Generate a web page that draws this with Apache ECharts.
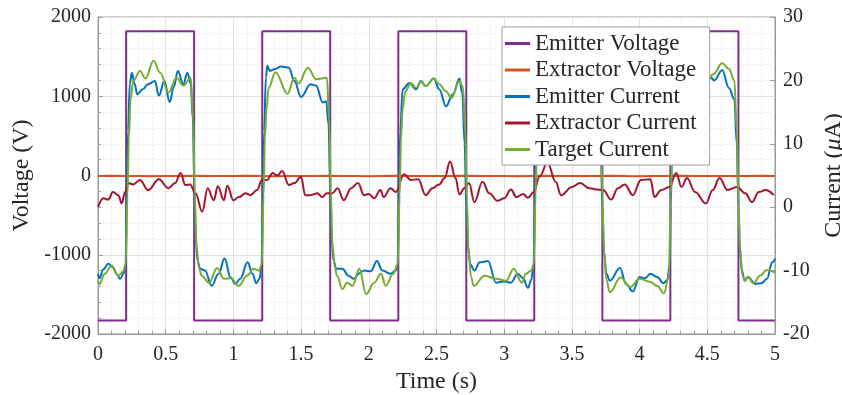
<!DOCTYPE html>
<html>
<head>
<meta charset="utf-8">
<script src="https://cdn.jsdelivr.net/npm/echarts@6/dist/echarts.min.js"></script>
<style>
  html, body { margin: 0; padding: 0; background: #fff; }
  #chart { width: 842px; height: 395px; }
</style>
</head>
<body>
<div id="chart"></div>
<script>
// time grid / values
const emitterVoltageT = [0, 0.208, 0.208, 0.71, 0.71, 1.213, 1.213, 1.715, 1.715, 2.218, 2.218,
  2.72, 2.72, 3.222, 3.222, 3.725, 3.725, 4.227, 4.227, 4.73, 4.73, 5];
const emitterVoltage = [-1830, -1830, 1820, 1820, -1830, -1830, 1820, 1820, -1830, -1830, 1820,
  1820, -1830, -1830, 1820, 1820, -1830, -1830, 1820, 1820, -1830, -1830];

// sampled every 0.1 s
const extractorVoltage = [-6, -4, -7, -5, -8, -5, -6, -3, -6, -7, -5, -4, -6, -8, -5, -6, -7, -4,
  -5, -6, -8, -5, -3, -6, -7, -5, -6, -4, -7, -5, -6, -8, -5, -4, -6, -7, -5, -6, -3, -6, -8, -5,
  -6, -4, -7, -5, -6, -5, -7, -4, -6];

const emitterCurrentT = [0, 0.01, 0.04, 0.076, 0.11, 0.14, 0.163, 0.19, 0.203, 0.212, 0.222, 0.235,
  0.25, 0.27, 0.29, 0.33, 0.37, 0.42, 0.45, 0.49, 0.53, 0.56, 0.59, 0.63, 0.66, 0.685, 0.7, 0.712,
  0.722, 0.735, 0.755, 0.79, 0.84, 0.89, 0.935, 0.98, 1.015, 1.05, 1.105, 1.14, 1.17, 1.195, 1.208,
  1.217, 1.227, 1.24, 1.25, 1.27, 1.31, 1.35, 1.41, 1.45, 1.5, 1.57, 1.61, 1.66, 1.685, 1.703, 1.715,
  1.725, 1.74, 1.76, 1.805, 1.85, 1.89, 1.93, 1.965, 2.015, 2.06, 2.1, 2.16, 2.2, 2.213, 2.222,
  2.232, 2.25, 2.3, 2.35, 2.385, 2.42, 2.48, 2.52, 2.57, 2.62, 2.67, 2.69, 2.708, 2.72, 2.73, 2.75,
  2.78, 2.82, 2.88, 2.94, 3.0, 3.05, 3.1, 3.14, 3.175, 3.2, 3.217, 3.226, 3.236, 3.255, 3.3, 3.36,
  3.42, 3.48, 3.54, 3.6, 3.66, 3.695, 3.713, 3.725, 3.737, 3.755, 3.78, 3.855, 3.9, 3.95, 4.0, 4.04,
  4.08, 4.13, 4.175, 4.205, 4.222, 4.231, 4.241, 4.26, 4.3, 4.36, 4.42, 4.48, 4.53, 4.55, 4.61, 4.66,
  4.7, 4.718, 4.73, 4.74, 4.755, 4.775, 4.8, 4.855, 4.9, 4.94, 4.98, 5.0];
const emitterCurrent = [-10.5, -11.2, -9.8, -8.9, -9.5, -10.6, -11.3, -10.4, -9.5, 0, 12, 19.5,
  21.2, 19.5, 17.8, 18.6, 19.4, 19.9, 17.6, 19.9, 16.6, 19.0, 21.5, 19.4, 21.2, 19.5, 14, 3,
  -5, -8.5, -9.7, -10.0, -12.4, -10.5, -8.1, -11.1, -12.1, -11.3, -8.7, -10.5, -12.0, -11.2, -9,
  0, 12, 20.5, 22.3, 21.5, 21.8, 22.2, 22.0, 19.9, 17.4, 19.4, 19.2, 16.5, 16.7, 13, 3,
  -5, -8.5, -9.7, -9.7, -10.8, -11.3, -10.4, -10.0, -10.1, -8.5, -10.0, -10.5, -10, -9, 0,
  12, 18.6, 19.6, 18.6, 19.9, 19.1, 20.3, 18.6, 15.9, 17.8, 20.3, 18, 10, 0, -6, -9,
  -10.0, -8.7, -8.5, -11.9, -11.7, -11.9, -10.5, -11.2, -12.7, -11.5, -9, 0, 12, 19.5, 20.5, 19.2,
  20.8, 18.9, 20.2, 19.0, 20.4, 18, 10, 0, -7, -10.5, -11.6, -9.6, -12.1, -13.3, -11.0, -11.2,
  -10.5, -11.0, -12.0, -11.5, -9, 0, 12, 19.5, 20.5, 19.0, 20.6, 19.3, 20.4, 20.0, 21.6, 18.8,
  17, 10, 0, -6, -10, -11.6, -11.0, -12.1, -12.0, -11.3, -8.7, -8.1];

const extractorCurrentT = [0, 0.04, 0.076, 0.11, 0.15, 0.175, 0.2, 0.225, 0.26, 0.31, 0.37, 0.45,
  0.52, 0.57, 0.61, 0.645, 0.68, 0.72, 0.77, 0.81, 0.855, 0.885, 0.93, 0.955, 1.0, 1.04, 1.09,
  1.125, 1.175, 1.21, 1.25, 1.29, 1.325, 1.36, 1.41, 1.45, 1.5, 1.53, 1.57, 1.62, 1.655, 1.69,
  1.73, 1.77, 1.815, 1.87, 1.92, 1.965, 2.0, 2.04, 2.085, 2.11, 2.16, 2.2, 2.26, 2.31, 2.365,
  2.42, 2.47, 2.52, 2.56, 2.6, 2.64, 2.67, 2.705, 2.74, 2.78, 2.84, 2.89, 2.95, 3.0, 3.05, 3.09,
  3.14, 3.175, 3.22, 3.26, 3.32, 3.38, 3.42, 3.5, 3.56, 3.63, 3.68, 3.73, 3.79, 3.84, 3.89, 3.95,
  4.01, 4.08, 4.11, 4.16, 4.22, 4.27, 4.31, 4.35, 4.41, 4.49, 4.54, 4.59, 4.65, 4.72, 4.78, 4.83,
  4.88, 4.93, 4.99];
const extractorCurrent = [0.0, 1.4, 1.2, 2.4, 1.9, 0.6, 2.4, 3.8, 3.6, 4.3, 2.7, 4.4,
  3.0, 3.8, 5.4, 3.5, 3.6, 2.2, -0.7, 3.0, 1.1, 3.3, 1.1, 3.4, 1.1, 1.6, 2.2,
  1.9, 2.7, 4.3, 4.3, 5.4, 5.0, 5.7, 3.5, 3.8, 4.8, 1.9, 1.9, 2.2, 1.6, 2.2,
  2.2, 3.0, 1.1, 3.0, 3.8, 1.9, 2.1, 1.4, 2.7, 1.6, 3.0, 2.4, 5.2, 4.3, 4.4,
  1.9, 3.0, 3.6, 4.6, 7.2, 4.6, 2.0, 3.0, 3.8, 0.8, 4.0, 2.2, 1.0, 1.4, 2.8, 1.6,
  2.1, 1.5, 2.4, 4.8, 7.0, 4.0, 1.9, 3.2, 3.8, 3.0, 2.8, 2.7, 1.2, 3.0, 3.6, 1.9,
  4.3, 4.4, 1.6, 2.7, 3.2, 5.4, 3.2, 4.6, 2.4, 0.6, 2.7, 4.6, 2.7, 3.2, 2.2, 0.8,
  2.4, 2.7, 1.9];

const targetCurrentT = [0, 0.01, 0.05, 0.1, 0.15, 0.185, 0.205, 0.218, 0.228, 0.24, 0.26, 0.31,
  0.35, 0.41, 0.46, 0.52, 0.58, 0.63, 0.685, 0.703, 0.715, 0.727, 0.745, 0.765, 0.82, 0.88, 0.93,
  0.98, 1.04, 1.1, 1.15, 1.19, 1.21, 1.223, 1.233, 1.245, 1.26, 1.31, 1.4, 1.45, 1.48, 1.55, 1.61,
  1.69, 1.708, 1.72, 1.732, 1.75, 1.765, 1.805, 1.84, 1.88, 1.93, 1.98, 2.04, 2.09, 2.125, 2.18,
  2.215, 2.228, 2.238, 2.25, 2.27, 2.31, 2.35, 2.385, 2.42, 2.48, 2.52, 2.57, 2.61, 2.67, 2.695,
  2.713, 2.725, 2.737, 2.755, 2.775, 2.855, 2.94, 3.015, 3.07, 3.13, 3.16, 3.2, 3.219, 3.232, 3.242,
  3.254, 3.275, 3.32, 3.38, 3.44, 3.5, 3.56, 3.62, 3.695, 3.713, 3.725, 3.737, 3.755, 3.78, 3.86,
  3.93, 4.0, 4.08, 4.13, 4.18, 4.215, 4.232, 4.242, 4.255, 4.275, 4.32, 4.38, 4.44, 4.5, 4.545,
  4.61, 4.66, 4.7, 4.718, 4.73, 4.742, 4.76, 4.78, 4.8, 4.84, 4.89, 4.94, 5.0];
const targetCurrent = [-11.6, -12.1, -10.5, -9.2, -10.8, -10.2, -9, 2, 11, 17, 19.9, 21.5,
  20.3, 23.1, 21.2, 18.1, 20.4, 19.2, 20.4, 14, 2, -6, -9.5, -10.8, -11.9, -9.6, -11.3,
  -11.2, -12.4, -10.8, -9.7, -10.0, -9, 2, 11, 15.5, 18.8, 21.3, 17.9, 20.4, 19.5, 22.0, 20.2,
  20.4, 14, 2, -6, -9.5, -10.8, -12.9, -11.9, -12.4, -9.7, -13.7, -11.9, -10.5, -12.4, -10.5,
  -9, 2, 11, 15.5, 18.3, 19.6, 18.8, 19.8, 19.1, 20.3, 19.4, 18.3, 17.2, 19.9, 19,
  12, 1, -7, -11, -12.4, -10.8, -11.3, -11.6, -9.7, -11.9, -10.5, -10, -9, 2, 11,
  16, 20, 21.2, 19.5, 21.0, 19.2, 20.6, 19.8, 20.5, 14, 2, -7, -11.5, -13.4, -11.1,
  -12.6, -11.3, -11.8, -12.4, -13.6, -11, 2, 11, 16, 19, 20.8, 19.6, 21.2, 20.0, 21.0,
  22.7, 21.8, 20.0, 12, 1, -7, -10.8, -11.6, -11.0, -12.0, -10.8, -9.9, -10.3];

const zip = (t, v) => t.map((x, i) => [x, v[i]]);

const FONT = 'Liberation Serif';
const AXIS = '#9a9a9a';
const TEXT = '#262626';

const chart = echarts.init(document.getElementById('chart'));

chart.setOption({
  animation: false,
  backgroundColor: '#fff',
  grid: {
    left: 98, right: 67, top: 17, bottom: 61,
    outerBoundsMode: 'none',
    containLabel: false,
    show: true, borderColor: AXIS, borderWidth: 1,
  },
  legend: {
    orient: 'vertical',
    left: 502,
    top: 27,
    padding: [5, 13, 4, 3],
    itemWidth: 25,
    itemHeight: 3,
    itemGap: 3.5,
    icon: 'rect',
    backgroundColor: '#fff',
    borderColor: '#a0a0a0',
    borderWidth: 1,
    textStyle: { fontFamily: FONT, fontSize: 23, color: TEXT, lineHeight: 20 },
    data: ['Emitter Voltage', 'Extractor Voltage', 'Emitter Current', 'Extractor Current', 'Target Current'],
  },
  xAxis: {
    type: 'value',
    min: 0, max: 5, interval: 0.5,
    name: 'Time (s)',
    nameLocation: 'middle',
    nameGap: 34,
    nameTextStyle: { fontFamily: FONT, fontSize: 24, color: TEXT },
    axisLine: { onZero: false, lineStyle: { color: AXIS } },
    axisTick: { inside: true, length: 5, lineStyle: { color: AXIS } },
    minorTick: { show: true, splitNumber: 5, length: 3, lineStyle: { color: AXIS } },
    axisLabel: { margin: 11, fontFamily: FONT, fontSize: 20, color: TEXT },
    splitLine: { show: true, lineStyle: { color: '#e2e2e2' } },
    minorSplitLine: { show: true, lineStyle: { color: '#ededed', type: [2, 2] } },
  },
  yAxis: [
    {
      type: 'value',
      min: -2000, max: 2000, interval: 1000,
      name: 'Voltage (V)',
      nameLocation: 'middle',
      nameRotate: 90,
      nameGap: 62,
      nameTextStyle: { fontFamily: FONT, fontSize: 24, color: TEXT },
      axisLine: { show: true, onZero: false, lineStyle: { color: AXIS } },
      axisTick: { show: true, inside: true, length: 5, lineStyle: { color: AXIS } },
      minorTick: { show: true, splitNumber: 5, length: 3, lineStyle: { color: AXIS } },
      axisLabel: { margin: 7, fontFamily: FONT, fontSize: 20, color: TEXT, formatter: (v) => String(v) },
      splitLine: { show: true, lineStyle: { color: '#e2e2e2' } },
      minorSplitLine: { show: true, lineStyle: { color: '#ededed', type: [2, 2] } },
    },
    {
      type: 'value',
      position: 'right',
      min: -20, max: 30, interval: 10,
      name: '{n|Current (}{m|μ}{n|A)}',
      nameLocation: 'middle',
      nameRotate: 90,
      nameGap: 47,
      nameTextStyle: {
        rich: {
          n: { fontFamily: FONT, fontSize: 24, color: TEXT },
          m: { fontFamily: FONT, fontSize: 24, color: TEXT, fontStyle: 'italic' },
        },
      },
      axisLine: { show: true, onZero: false, lineStyle: { color: AXIS } },
      axisTick: { show: true, inside: true, length: 5, lineStyle: { color: AXIS } },
      axisLabel: { margin: 8, fontFamily: FONT, fontSize: 20, color: TEXT, formatter: (v) => String(v) },
      splitLine: { show: false },
    },
  ],
  series: [
    {
      name: 'Emitter Voltage', type: 'line', yAxisIndex: 0, symbol: 'none',
      data: zip(emitterVoltageT, emitterVoltage),
      itemStyle: { color: '#7E2F8E' }, lineStyle: { width: 2, color: '#7E2F8E' },
    },
    {
      name: 'Extractor Voltage', type: 'line', yAxisIndex: 0, symbol: 'none',
      data: extractorVoltage.map((v, i) => [i * 0.1, v]),
      itemStyle: { color: '#D95319' }, lineStyle: { width: 2, color: '#D95319' },
    },
    {
      name: 'Emitter Current', type: 'line', yAxisIndex: 1, symbol: 'none',
      smooth: 0.4, smoothMonotone: 'x',
      data: zip(emitterCurrentT, emitterCurrent),
      itemStyle: { color: '#0072BD' }, lineStyle: { width: 2, color: '#0072BD' },
    },
    {
      name: 'Extractor Current', type: 'line', yAxisIndex: 1, symbol: 'none',
      smooth: 0.4, smoothMonotone: 'x',
      data: zip(extractorCurrentT, extractorCurrent),
      itemStyle: { color: '#A2142F' }, lineStyle: { width: 2, color: '#A2142F' },
    },
    {
      name: 'Target Current', type: 'line', yAxisIndex: 1, symbol: 'none',
      smooth: 0.4, smoothMonotone: 'x',
      data: zip(targetCurrentT, targetCurrent),
      itemStyle: { color: '#77AC30' }, lineStyle: { width: 2, color: '#77AC30' },
    },
  ],
});
</script>
</body>
</html>
